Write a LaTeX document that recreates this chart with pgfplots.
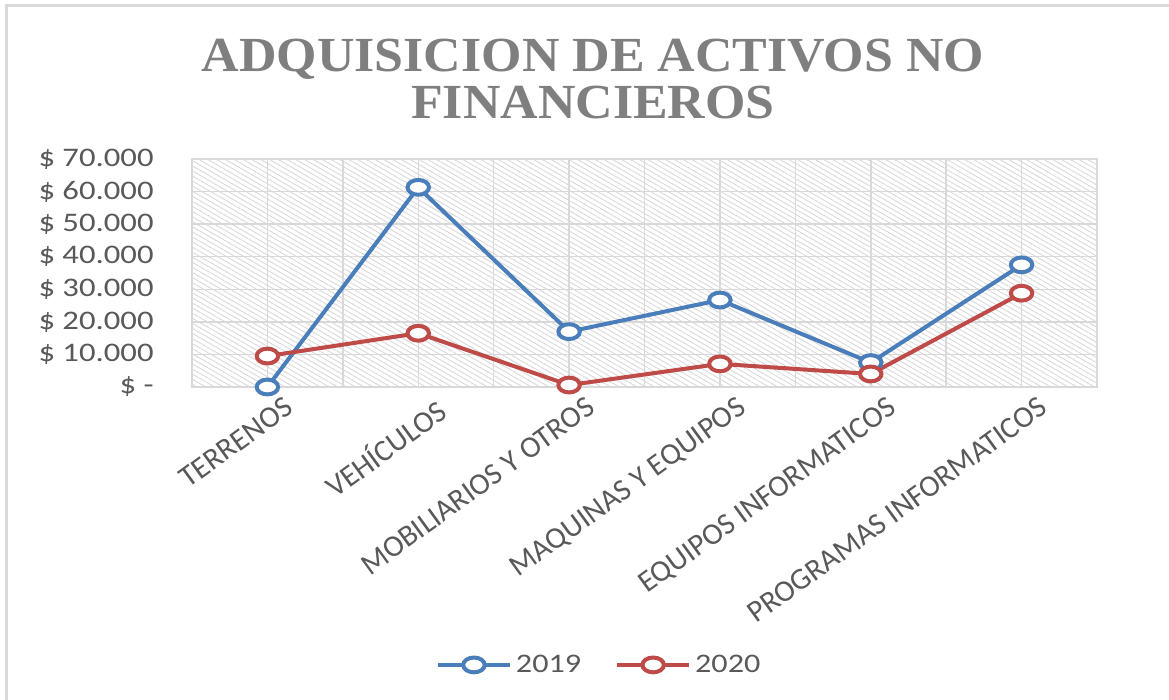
\documentclass[border=0pt]{standalone}
\usepackage{fontspec}
\setmainfont{Carlito}
\newfontfamily\titlefont{Liberation Serif}
\usepackage{pgfplots}
\pgfplotsset{compat=1.18}
\usetikzlibrary{patterns.meta}
\definecolor{ser1}{HTML}{4A7EBB}
\definecolor{ser2}{HTML}{BE4B48}
\definecolor{gridc}{HTML}{D9D9D9}
\definecolor{txt}{HTML}{595959}
\definecolor{ttl}{HTML}{7F7F7F}
\newcommand\sx[1]{\scalebox{1.2}[1]{#1}}
\newcommand\yl[1]{\scalebox{1.22}[1]{\$ #1}}
\begin{document}
\begin{tikzpicture}
\useasboundingbox (0pt,0pt) rectangle (584.5pt,-350pt);
\fill[white] (0pt,0pt) rectangle (584.5pt,-350pt);
\draw[gridc, line width=1.5pt] (3.25pt,-350pt) -- (3.25pt,-3pt) -- (584.5pt,-3pt);
\node[anchor=base, text=ttl, font=\titlefont\bfseries\fontsize{24.5}{28}\selectfont, inner sep=0pt] at (296.5pt,-36pt) {\scalebox{1.06}[1]{ADQUISICION DE ACTIVOS NO}};
\node[anchor=base, text=ttl, font=\titlefont\bfseries\fontsize{24.5}{28}\selectfont, inner sep=0pt] at (296.5pt,-59.5pt) {\scalebox{1.06}[1]{FINANCIEROS}};
\begin{axis}[
  at={(96pt,-193.5pt)}, anchor=south west,
  width=452.5pt, height=114pt, scale only axis,
  xmin=-0.5, xmax=5.5, ymin=0, ymax=70000,
  clip=false,
  xtick={0,1,2,3,4,5},
  xticklabels={TERRENOS,VEHÍCULOS,MOBILIARIOS Y OTROS,MAQUINAS Y EQUIPOS,EQUIPOS INFORMATICOS,PROGRAMAS INFORMATICOS},
  minor xtick={-0.5,0.5,1.5,2.5,3.5,4.5,5.5},
  ytick={0,10000,20000,30000,40000,50000,60000,70000},
  yticklabels={\yl{-},\yl{10.000},\yl{20.000},\yl{30.000},\yl{40.000},\yl{50.000},\yl{60.000},\yl{70.000}},
  scaled y ticks=false,
  grid=both,
  major grid style={gridc, line width=0.75pt},
  minor grid style={gridc, line width=0.75pt},
  axis line style={gridc, line width=0.75pt},
  tick style={draw=none},
  axis background/.style={pattern={Lines[angle=-30,distance=2.2pt,line width=0.45pt]}, pattern color=gray!30},
  yticklabel style={font=\fontsize{13.4}{15}\selectfont, text=txt, inner sep=0pt, xshift=-19pt},
  xticklabel style={font=\fontsize{15.2}{17}\selectfont, text=txt, inner sep=0pt, rotate=36, anchor=north east, yshift=-8pt, xshift=4pt},
  legend style={at={(0.451,-1.219)}, anchor=center, legend columns=2, draw=none, fill=none,
    font=\fontsize{13.4}{15}\selectfont, text=txt,
    /tikz/every even column/.append style={column sep=15pt}},
  legend image code/.code={\draw[mark repeat=2,mark phase=2,#1] plot coordinates {(0pt,0pt) (18pt,0pt) (36pt,0pt)};},
]
\addplot[ser1, line width=2pt, mark=*, mark size=3.7pt, mark options={fill=white, xscale=1.45, line width=2pt}]
  coordinates {(0,0) (1,61300) (2,17000) (3,26700) (4,7500) (5,37500)};
\addlegendentry{\sx{2019}}
\addplot[ser2, line width=2pt, mark=*, mark size=3.7pt, mark options={fill=white, xscale=1.45, line width=2pt}]
  coordinates {(0,9500) (1,16500) (2,600) (3,7100) (4,4000) (5,28800)};
\addlegendentry{\sx{2020}}
\end{axis}
\end{tikzpicture}
\end{document}
